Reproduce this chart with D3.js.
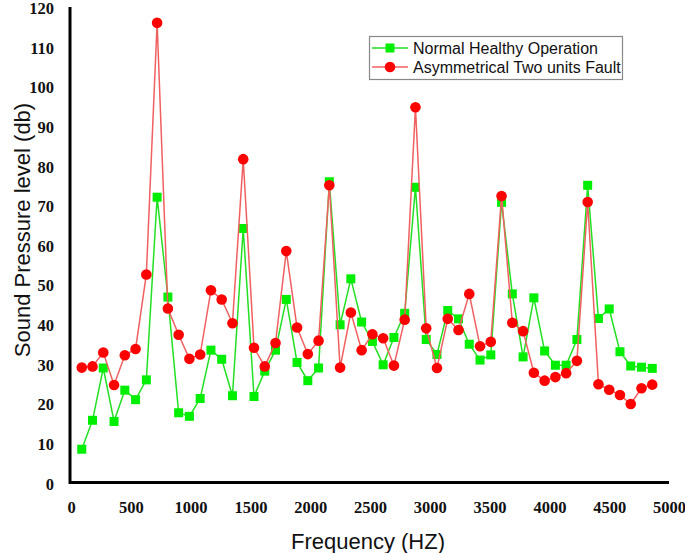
<!DOCTYPE html>
<html>
<head>
<meta charset="utf-8">
<script src="https://cdn.jsdelivr.net/npm/d3@7"></script>
<style>
  html, body { margin: 0; padding: 0; background: #fff; }
  svg { display: block; }
</style>
</head>
<body>
<svg id="chart" width="685" height="553"></svg>
<script>
const frequencies = [90, 180, 270, 360, 450, 540, 630, 720, 810, 900,
  990, 1080, 1170, 1260, 1350, 1440, 1530, 1620, 1710, 1800,
  1890, 1980, 2070, 2160, 2250, 2340, 2430, 2520, 2610, 2700,
  2790, 2880, 2970, 3060, 3150, 3240, 3330, 3420, 3510, 3600,
  3690, 3780, 3870, 3960, 4050, 4140, 4230, 4320, 4410, 4500,
  4590, 4680, 4770, 4860];

const normalValues = [8.4, 15.7, 28.9, 15.4, 23.3, 20.9, 25.9, 72.0, 46.8, 17.6,
  16.7, 21.2, 33.4, 31.1, 21.9, 64.1, 21.7, 28.1, 33.4, 46.2,
  30.3, 25.7, 28.9, 75.9, 39.8, 51.4, 40.5, 35.6, 29.7, 36.6,
  42.7, 74.5, 36.1, 32.3, 43.4, 41.3, 34.9, 30.9, 32.2, 70.7,
  47.6, 31.7, 46.6, 33.2, 29.6, 29.6, 36.1, 75.0, 41.4, 43.8,
  33.0, 29.4, 29.1, 28.8];

const faultValues = [29.0, 29.3, 32.8, 24.6, 32.1, 33.7, 52.5, 116.0, 43.9, 37.3,
  31.2, 32.3, 48.5, 46.2, 40.2, 81.6, 34.0, 29.3, 35.2, 58.4,
  39.1, 32.4, 35.8, 75.0, 29.0, 42.9, 33.4, 37.4, 36.4, 29.5,
  41.1, 94.7, 38.9, 28.9, 41.3, 38.5, 47.6, 34.4, 35.5, 72.3,
  40.3, 38.2, 27.7, 25.7, 26.6, 27.6, 30.7, 70.8, 24.8, 23.4,
  22.1, 19.8, 23.8, 24.7];

const xTicks = [0, 500, 1000, 1500, 2000, 2500, 3000, 3500, 4000, 4500, 5000];
const yTicks = [0, 10, 20, 30, 40, 50, 60, 70, 80, 90, 100, 110, 120];
const seriesNames = ["Normal Healthy Operation", "Asymmetrical Two units Fault"];

const svg = d3.select("#chart");
const x = d3.scaleLinear().domain([0, 5000]).range([71, 669]);
const y = d3.scaleLinear().domain([0, 120]).range([482.5, 7]);

const tickFont = "'Liberation Serif', 'Times New Roman', serif";
const sansFont = "'Liberation Sans', Arial, sans-serif";

// X axis
const xAxis = svg.append("g").attr("transform", "translate(0,482.5)")
  .call(d3.axisBottom(x).tickValues(xTicks).tickSize(0).tickPadding(19).tickFormat(d3.format("d")));
xAxis.select(".domain").attr("stroke", "#000").attr("stroke-width", 3).attr("d", `M69.5,0H${x(5000)}`);
xAxis.selectAll("text").attr("font-family", tickFont).attr("font-weight", "bold")
  .attr("font-size", 16.5).attr("fill", "#111");

// Y axis
const yAxis = svg.append("g").attr("transform", "translate(70,0)")
  .call(d3.axisLeft(y).tickValues(yTicks).tickSize(0).tickPadding(16).tickFormat(d3.format("d")));
yAxis.select(".domain").attr("stroke", "#000").attr("stroke-width", 3).attr("d", `M0,${y(120)}V484`);
yAxis.selectAll("text").attr("font-family", tickFont).attr("font-weight", "bold")
  .attr("font-size", 16.5).attr("fill", "#111").attr("dy", "0.4em");

// Titles
svg.append("text").attr("x", 368).attr("y", 549).attr("text-anchor", "middle")
  .attr("font-family", sansFont).attr("font-size", 22).attr("fill", "#111").text("Frequency (HZ)");
svg.append("text").attr("transform", "translate(30,230) rotate(-90)").attr("text-anchor", "middle")
  .attr("font-family", sansFont).attr("font-size", 22).attr("fill", "#111").text("Sound Pressure level (db)");

const normalData = frequencies.map((f, i) => ({ f, v: normalValues[i] }));
const faultData = frequencies.map((f, i) => ({ f, v: faultValues[i] }));
const line = d3.line().x(d => x(d.f)).y(d => y(d.v));

const greenLine = "#22e022", greenMark = "#00ee00";
const redLine = "#f06060", redMark = "#ff0000";

// Normal series
svg.append("path").datum(normalData).attr("d", line).attr("fill", "none")
  .attr("stroke", greenLine).attr("stroke-width", 1.5);
svg.append("g").selectAll("rect").data(normalData).join("rect")
  .attr("x", d => x(d.f) - 4.5).attr("y", d => y(d.v) - 4.5)
  .attr("width", 9).attr("height", 9).attr("fill", greenMark);

// Fault series
svg.append("path").datum(faultData).attr("d", line).attr("fill", "none")
  .attr("stroke", redLine).attr("stroke-width", 1.5);
svg.append("g").selectAll("circle").data(faultData).join("circle")
  .attr("cx", d => x(d.f)).attr("cy", d => y(d.v)).attr("r", 5.3).attr("fill", redMark);

// Legend
const lg = svg.append("g");
lg.append("rect").attr("x", 369.5).attr("y", 36.5).attr("width", 253).attr("height", 43)
  .attr("fill", "#fff").attr("stroke", "#888").attr("stroke-width", 1.2);
const rows = [
  { name: seriesNames[0], cy: 48, lc: greenLine, mc: greenMark, shape: "rect" },
  { name: seriesNames[1], cy: 67, lc: redLine, mc: redMark, shape: "circle" }
];
rows.forEach(r => {
  lg.append("line").attr("x1", 372).attr("x2", 408).attr("y1", r.cy).attr("y2", r.cy)
    .attr("stroke", r.lc).attr("stroke-width", 1.5);
  if (r.shape === "rect") {
    lg.append("rect").attr("x", 390 - 4.5).attr("y", r.cy - 4.5).attr("width", 9).attr("height", 9).attr("fill", r.mc);
  } else {
    lg.append("circle").attr("cx", 390).attr("cy", r.cy).attr("r", 5.3).attr("fill", r.mc);
  }
  lg.append("text").attr("x", 413).attr("y", r.cy + 5.5).attr("font-family", sansFont)
    .attr("font-size", 16).attr("fill", "#111").text(r.name);
});
</script>
</body>
</html>
